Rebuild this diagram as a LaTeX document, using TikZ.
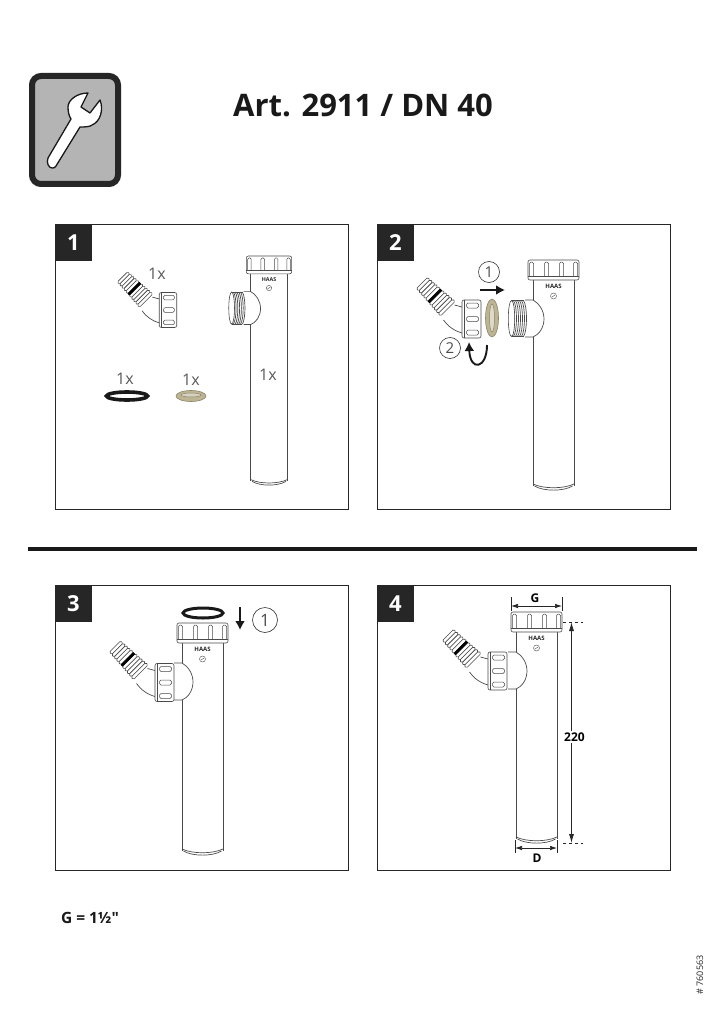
\documentclass[tikz,border=0pt]{standalone}
\usepackage{fontspec}
\setmainfont{Open Sans}
\newfontfamily\plainsans{Open Sans}
\usetikzlibrary{shapes.geometric,arrows.meta}
\definecolor{ironline}{HTML}{4A4A4A}
\definecolor{brassfill}{HTML}{BDB494}
\definecolor{brassline}{HTML}{8C8468}
\definecolor{icongray}{HTML}{B4B4B4}
\tikzset{
    part/.style={draw=ironline, line width=0.6, fill=white},
    wall/.style={draw=ironline, line width=0.7},
    frameline/.style={draw=black!85, line width=0.9},
    numbox/.style={fill=black!85, text=white, minimum size=37, inner sep=0, font=\fontsize{22}{22}\selectfont\bfseries},
    countlabel/.style={text=black!65, inner sep=0, font=\fontsize{16}{16}\selectfont},
    steplabel/.style={circle, draw=black!80, line width=0.6, text=black!70, inner sep=0, font=\fontsize{15}{15}\selectfont},
    movearrow/.style={-{Latex[length=9pt,width=10pt]}, draw=black!90, line width=1.9},
    dimarrow/.style={{Latex[length=7pt,width=4.5pt]}-{Latex[length=7pt,width=4.5pt]}, draw=black!85, line width=0.7},
    dimhead/.style={-{Latex[length=9pt,width=5pt]}, draw=black!85, line width=0.8},
    dimtick/.style={draw=black!85, line width=0.6},
    dimlabel/.style={inner sep=1, font=\fontsize{12}{12}\selectfont\bfseries}
}
\newcommand{\panel}[3]{
            \draw[frameline] (#2,#3) rectangle (#2+293,#3+285);
            \node[numbox] (num#1) at (#2+18.5,#3+18.5) {#1};
        }
% body of the tube, side socket included: centre, top, bottom, scale
\newcommand{\pipe}[5]{
            \pgfmathsetmacro{\pipelen}{(#3-#2)/#4}
            \begin{scope}[shift={(#1,#2)}, scale=#4]
            \draw[wall] (-20.5,20) -- (-20.5,40);
            \draw[wall] (-20.5,77) -- (-20.5,\pipelen-4);
            \draw[wall] (20.5,20) -- (20.5,\pipelen-4);
            \draw[wall] (-20.5,\pipelen-6) .. controls (-10,\pipelen-1) and (10,\pipelen-1) .. (20.5,\pipelen-6);
            \draw[wall] (-19,\pipelen-4) .. controls (-10,\pipelen+1.5) and (10,\pipelen+1.5) .. (19,\pipelen-4);
            \draw[wall] (-28.5,40) -- (-20.5,40) .. controls (-15,43) and (-9.5,50) .. (-9.5,59) .. controls (-9.5,68) and (-15,75) .. (-20.5,77) -- (-28.5,77);
            \draw[part, rounded corners=2] (-25.5,0) rectangle (25.5,20);
            \draw[wall, line width=0.5] (-25.5,16) -- (25.5,16);
            \foreach \f in {-24,-9,6,20}{
                \draw[wall, line width=0.5, rounded corners=1.5] (\f,16) -- (\f,2) -- (\f+4,2) -- (\f+4,16);
            }
            \node[inner sep=0, transform shape, text=black!85, font=\fontsize{6}{6}\selectfont\bfseries] (#5haas) at (0,26) {HAAS};
            \draw[wall, line width=0.4] (0,36) circle (3);
            \draw[wall, line width=0.4] (-1.6,37) -- (1.6,35);
            \end{scope}
        }
% loose thread of the side socket
\newcommand{\thread}[3]{
            \begin{scope}[shift={(#1,#2)}, scale=#3]
            \foreach \t in {-42,-40,-38,-36,-34,-32,-30}{
                \draw[wall, line width=0.7] (\t,40.5) .. controls (\t+4,46) and (\t+4,71) .. (\t,76.5);
            }
            \draw[wall, line width=0.6] (-42,40.5) -- (-30,40.5);
            \draw[wall, line width=0.6] (-42,76.5) -- (-30,76.5);
            \draw[wall, fill=white, line width=0.6] (-42,58.5) ellipse (3.2 and 18);
            \end{scope}
        }
% hose nozzle with its nut: centre of the nut, scale
\newcommand{\elbow}[3]{
            \begin{scope}[shift={(#1,#2)}, scale=#3]
            \draw[wall] (-17,-14) -- (-9.5,-12);
            \draw[wall] (-28,1) .. controls (-24,7) and (-17,12) .. (-9.5,14);
            \begin{scope}[shift={(-49.5,-36)}, rotate=-45]
            \foreach \r in {0,3.4,6.8,10.2,13.6,19.4,22.8,26.2,29.6,33}{
                \pgfmathsetmacro{\rh}{8+\r*0.07}
                \draw[part, rounded corners=1.3] (\r,-\rh) rectangle (\r+3.4,\rh);
            }
            \draw[fill=black, draw=black] (17,-8.8) rectangle (19.4,8.8);
            \end{scope}
            \draw[part, rounded corners=2] (-9.5,-19) rectangle (9.5,19);
            \draw[wall, line width=0.5] (-7,-19) -- (-7,19);
            \foreach \b in {-13.5,0,13.5}{
                \draw[wall, line width=0.5, rounded corners=1.5] (-5,\b-2.5) rectangle (7,\b+2.5);
            }
            \end{scope}
        }
\begin{document}
\begin{tikzpicture}[x=1pt, y=-1pt]
        \useasboundingbox (0,0) rectangle (724,1024);
        \fill[white] (0,0) rectangle (724,1024);

        % wrench icon
        \draw[fill=icongray, draw=black!85, line width=6, rounded corners=9] (32,76) rectangle (118,184);
        \draw[fill=white, draw=black!90, line width=1.3, line join=round] (88,93) .. controls (77,93) and (68,100) .. (68,107)
            .. controls (68,112) and (69,116) .. (71,119) -- (48,158) .. controls (46,163) and (49,168) .. (52,168)
            .. controls (54,168) and (55,168) .. (56,166) -- (80,127) .. controls (84,127) and (90,127) .. (92,125)
            .. controls (100,122) and (104,110) .. (100,100) -- (90,113) -- (81,107) -- cycle;

        \node[inner sep=0, text=black!90, font=\fontsize{31}{31}\selectfont\bfseries] (title) at (363,105) {Art. 2911 / DN 40};

        \panel{1}{55}{224}
        \panel{2}{377}{224}
        \panel{3}{55}{585}
        \panel{4}{377}{585}
        \draw[draw=black!90, line width=4.5] (28,549) -- (697,549);

        % step 1
        \pipe{269}{256}{485}{0.89}{a}
        \thread{269}{256}{0.89}
        \elbow{168}{310}{0.92}
        \draw[draw=black!90, line width=3.6] (127,396) ellipse (20.5 and 4);
        \draw[draw=brassline, fill=brassfill, line width=0.6] (191,396) ellipse (15 and 5.5);
        \draw[draw=brassline, fill=brassfill!60!white, line width=0.5] (191,395) ellipse (10 and 2);
        \node[countlabel] (c1) at (157,274) {1x};
        \node[countlabel] (c2) at (125,379) {1x};
        \node[countlabel] (c3) at (191,380) {1x};
        \node[countlabel] (c4) at (268,375) {1x};

        % step 2
        \pipe{553.5}{260}{490}{1}{b}
        \thread{553.5}{260}{1}
        \elbow{471.5}{319}{1}
        \draw[draw=brassline, fill=brassfill, line width=0.6] (492,318) ellipse (6.5 and 19);
        \draw[draw=brassline, fill=brassfill!50!white, line width=0.5] (492,318) ellipse (2.5 and 14);
        \node[steplabel, minimum size=21] (s1) at (489,272) {1};
        \node[steplabel, minimum size=21] (s2) at (450,348) {2};
        \coordinate (pushs) at (480,290);
        \coordinate (pushe) at (505,290);
        \draw[movearrow] (pushs) -- (pushe);
        \coordinate (turns) at (487,345);
        \coordinate (turne) at (469,342);
        \draw[movearrow] (turns) .. controls (487,369) and (470,372) .. (turne);

        % step 3
        \pipe{202.5}{623}{855}{1}{c}
        \elbow{164.5}{682.5}{1}
        \draw[draw=black!90, line width=3] (203,613) ellipse (20 and 5);
        \node[steplabel, minimum size=25, font=\fontsize{17}{17}\selectfont] (s3) at (265,620) {1};
        \coordinate (drops) at (240,607);
        \coordinate (drope) at (240,630);
        \draw[movearrow] (drops) -- (drope);

        % step 4
        \pipe{536.5}{612}{843}{1}{d}
        \elbow{497.5}{671}{1}
        \draw[dimtick] (511,597) -- (511,611);
        \draw[dimtick] (562,597) -- (562,611);
        \coordinate (gl) at (511,606);
        \coordinate (gr) at (562,606);
        \draw[dimarrow] (gl) -- (gr);
        \node[dimlabel] (dimg) at (535,598) {G};
        \draw[dimtick] (515,840) -- (515,853);
        \draw[dimtick] (557,840) -- (557,853);
        \coordinate (dl) at (515,848);
        \coordinate (dr) at (557,848);
        \draw[dimarrow] (dl) -- (dr);
        \node[dimlabel] (dimd) at (537,858) {D};
        \draw[dimtick, dashed] (563,622) -- (583,622);
        \draw[dimtick, dashed] (563,843) -- (583,843);
        \node[dimlabel] (dimh) at (574.5,737) {220};
        \coordinate (ht) at (571.5,622);
        \coordinate (hb) at (571.5,843);
        \draw[dimhead] (dimh.north -| ht) -- (ht);
        \draw[dimhead] (dimh.south -| hb) -- (hb);

        \node[inner sep=0, text=black!90, font=\fontsize{15.5}{15.5}\selectfont\bfseries] (gsize) at (90,918) {\plainsans G = 1½"};
        \node[inner sep=0, rotate=90, text=black!85, font=\fontsize{9}{9}\selectfont] (artno) at (700,975) {\# 760563};
        \end{tikzpicture}
\end{document}
